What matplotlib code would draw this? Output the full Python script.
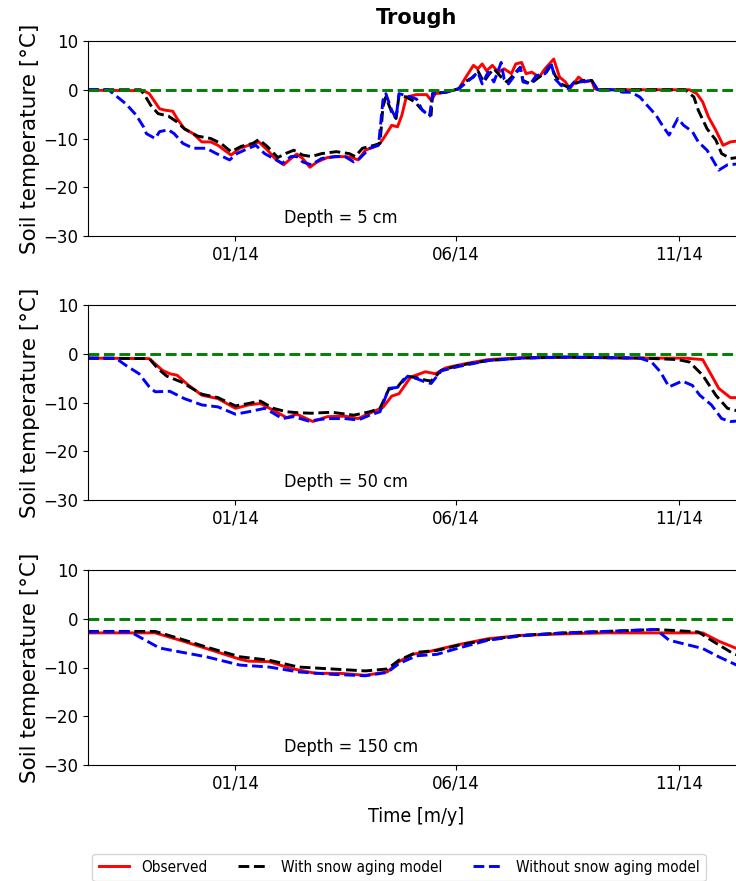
import datetime as dt
import numpy as np
import matplotlib
matplotlib.use("Agg")
import matplotlib.pyplot as plt
import matplotlib.dates as mdates

# ---- data: days since 2014-01-01, soil temperature [°C] ----
obs5_d = [-101, -63, -59, -52, -48, -43, -40, -35, -29, -23, -17, -12, -3, 3, 9, 16, 22, 27, 33, 38, 42, 46, 51, 56, 63, 72, 79, 84, 89, 95, 99, 102, 107, 111, 114, 117, 124, 131, 134, 137, 144, 153, 157, 160, 163, 166, 169, 172, 176, 180, 184, 189, 192, 196, 199, 203, 208, 212, 215, 218, 222, 226, 229, 235, 239, 244, 246, 249, 311, 316, 320, 324, 329, 334, 339, 349]
obs5_v = [-0.1, -0.2, -0.8, -3.9, -4.2, -4.4, -5.9, -8.0, -9.0, -10.7, -10.7, -11.4, -13.4, -12.0, -11.4, -10.7, -12.4, -14.1, -15.4, -14.1, -13.2, -14.1, -15.9, -14.8, -13.9, -13.7, -13.8, -14.4, -12.4, -11.7, -11.0, -9.7, -7.3, -7.6, -5.2, -1.5, -1.0, -1.0, -2.2, -0.8, -0.5, 0.2, 2.2, 3.6, 5.0, 4.3, 5.3, 3.9, 5.0, 3.6, 4.3, 3.3, 5.3, 5.6, 3.3, 3.6, 2.6, 4.3, 5.3, 6.3, 2.6, 1.6, 0.2, 2.6, 1.6, 1.9, 0.2, 0.0, 0.0, -0.8, -2.5, -5.6, -8.3, -11.4, -10.7, -10.3]

age5_d = [-101, -65, -62, -58, -53, -46, -40, -35, -26, -17, -10, -3, 4, 12, 16, 22, 29, 35, 40, 46, 52, 59, 69, 78, 82, 87, 95, 99, 101, 103, 107, 110, 112, 117, 123, 127, 131, 134, 135, 144, 153, 157, 163, 166, 170, 174, 177, 182, 186, 190, 195, 197, 202, 208, 213, 216, 219, 223, 228, 232, 238, 244, 248, 308, 314, 317, 323, 329, 333, 339, 349]
age5_v = [0.0, 0.0, -1.2, -3.2, -4.9, -5.4, -6.6, -8.0, -9.5, -10.0, -11.0, -12.7, -11.6, -11.0, -10.2, -11.7, -13.9, -13.0, -12.4, -13.4, -13.7, -13.1, -12.7, -13.1, -13.7, -12.0, -11.4, -11.0, -3.5, -1.5, -4.6, -5.9, -1.2, -1.5, -2.5, -3.9, -4.9, -5.2, -0.8, -0.5, 0.2, 1.6, 2.6, 3.9, 1.6, 3.3, 4.3, 2.6, 1.6, 2.9, 4.6, 1.9, 1.2, 2.6, 3.6, 5.0, 2.9, 1.2, 0.5, 1.2, 1.9, 1.9, 0.0, 0.0, -1.5, -4.2, -8.0, -10.3, -13.1, -14.1, -13.7]

noage5_d = [-101, -87, -82, -75, -68, -63, -61, -55, -52, -46, -42, -36, -29, -20, -13, -4, 1, 9, 14, 20, 26, 32, 38, 42, 46, 52, 59, 68, 75, 81, 85, 92, 98, 101, 103, 107, 110, 112, 117, 124, 128, 133, 135, 144, 153, 157, 161, 166, 169, 173, 177, 182, 184, 187, 192, 195, 197, 202, 206, 212, 216, 219, 223, 228, 232, 236, 244, 248, 259, 265, 271, 277, 282, 288, 293, 297, 303, 307, 313, 317, 323, 327, 331, 337, 349]
noage5_v = [0.0, 0.0, -1.2, -2.9, -5.2, -7.6, -9.0, -10.0, -8.6, -8.2, -9.0, -11.0, -12.0, -12.0, -13.1, -14.4, -13.1, -12.0, -11.4, -13.1, -14.1, -15.1, -13.7, -13.7, -14.8, -15.4, -14.1, -13.7, -13.7, -14.8, -14.1, -12.0, -11.4, -2.2, -0.8, -4.2, -5.9, -0.8, -1.2, -1.9, -4.2, -5.4, -0.8, -0.5, 0.2, 1.2, 2.2, 3.6, 1.2, 3.6, 1.6, 5.6, 2.2, 1.2, 3.3, 4.6, 1.6, 1.2, 2.9, 3.3, 5.6, 2.2, 0.9, 0.2, 1.6, 1.6, 1.9, 0.0, 0.0, -0.5, -0.5, -1.5, -3.2, -5.2, -7.6, -9.3, -5.9, -7.3, -8.6, -10.7, -12.4, -14.4, -16.5, -15.4, -15.1]

obs50_d = [-101, -59, -50, -45, -40, -32, -23, -12, 0, 9, 17, 26, 35, 42, 53, 63, 75, 84, 92, 101, 107, 112, 120, 130, 137, 144, 158, 173, 196, 225, 280, 308, 320, 326, 331, 339, 349]
obs50_v = [-0.9, -1.0, -3.4, -4.1, -4.4, -6.5, -8.5, -9.2, -11.2, -10.5, -10.2, -11.6, -13.1, -12.4, -13.9, -12.9, -12.8, -13.3, -12.2, -11.0, -8.7, -8.2, -4.8, -3.7, -4.1, -2.9, -2.0, -1.2, -0.8, -0.7, -0.9, -0.9, -1.2, -4.4, -7.1, -9.0, -9.0]

age50_d = [-101, -59, -53, -47, -37, -23, -12, 0, 9, 17, 26, 35, 43, 52, 66, 81, 92, 99, 105, 111, 117, 124, 130, 134, 141, 153, 173, 196, 225, 280, 303, 311, 320, 329, 337, 349]
age50_v = [-0.9, -1.0, -3.1, -4.6, -5.8, -8.3, -9.0, -10.7, -10.2, -9.7, -11.2, -11.9, -12.1, -12.2, -12.0, -12.6, -11.9, -11.2, -7.3, -6.8, -4.6, -4.9, -5.4, -5.6, -3.4, -2.4, -1.4, -0.9, -0.7, -0.9, -1.2, -1.7, -4.4, -8.5, -11.2, -12.1]

noage50_d = [-101, -82, -75, -66, -59, -55, -45, -35, -23, -12, 0, 9, 20, 26, 32, 40, 50, 63, 75, 84, 92, 99, 105, 111, 118, 124, 130, 134, 141, 153, 173, 196, 225, 277, 285, 291, 297, 306, 313, 318, 326, 333, 339, 349]
noage50_v = [-0.9, -0.9, -2.4, -4.1, -6.8, -7.8, -7.7, -9.2, -10.5, -10.9, -12.4, -11.9, -11.2, -12.2, -13.3, -12.9, -13.8, -13.3, -13.3, -13.6, -12.6, -11.9, -7.1, -6.9, -4.6, -5.1, -5.8, -6.1, -3.5, -2.6, -1.4, -0.9, -0.7, -0.9, -1.7, -3.7, -6.8, -5.6, -6.5, -8.5, -10.5, -13.3, -13.9, -13.7]

obs150_d = [-101, -75, -55, -38, -20, 3, 9, 23, 38, 55, 72, 89, 104, 112, 121, 133, 153, 173, 196, 225, 254, 291, 320, 331, 349]
obs150_v = [-2.9, -2.9, -2.9, -4.4, -6.1, -8.3, -8.7, -8.8, -10.2, -11.2, -11.2, -11.6, -10.9, -8.8, -7.3, -6.7, -5.3, -4.1, -3.4, -3.1, -2.9, -2.9, -2.9, -4.6, -6.8]

age150_d = [-101, -55, -38, -20, 3, 23, 43, 66, 89, 104, 112, 124, 138, 153, 173, 196, 225, 254, 288, 317, 328, 339, 349]
age150_v = [-2.6, -2.6, -4.1, -5.8, -7.8, -8.5, -9.9, -10.3, -10.7, -10.3, -8.5, -6.9, -6.5, -5.4, -4.3, -3.4, -2.9, -2.6, -2.2, -2.7, -4.8, -6.8, -8.2]

noage150_d = [-101, -72, -52, -38, -20, 3, 23, 43, 66, 89, 104, 112, 124, 138, 153, 173, 196, 225, 254, 288, 297, 320, 331, 349]
noage150_v = [-2.7, -2.7, -6.0, -6.8, -7.8, -9.5, -9.9, -10.9, -11.4, -11.7, -11.0, -9.2, -7.6, -7.3, -6.0, -4.4, -3.5, -2.9, -2.6, -2.2, -4.4, -6.1, -7.8, -10.3]

depth_labels = ["Depth = 5 cm", "Depth = 50 cm", "Depth = 150 cm"]
series_names = ["Observed", "With snow aging model", "Without snow aging model"]
tick_dates = ["2014-01-01", "2014-06-01", "2014-11-01"]
yticks = [-30, -20, -10, 0, 10]

panels = [
    [(obs5_d, obs5_v), (age5_d, age5_v), (noage5_d, noage5_v)],
    [(obs50_d, obs50_v), (age50_d, age50_v), (noage50_d, noage50_v)],
    [(obs150_d, obs150_v), (age150_d, age150_v), (noage150_d, noage150_v)],
]

base = mdates.date2num(dt.datetime(2014, 1, 1))
xmin = mdates.date2num(dt.datetime(2013, 9, 22))
xmax = mdates.date2num(dt.datetime(2014, 12, 16))

W, H = 736, 881
fig = plt.figure(figsize=(W / 100, H / 100), dpi=100)

ax_left = 88 / W
ax_w = (745 - 88) / W
ax_h = 195 / H
bottoms = [236, 500, 765]

styles = [dict(color="red", ls="-", lw=2.1),
          dict(color="black", ls="--", lw=2.1),
          dict(color="blue", ls="--", lw=2.1)]

cond = dict(family="DejaVu Sans", stretch="condensed")

axes = []
for i, b in enumerate(bottoms):
    ax = fig.add_axes([ax_left, 1 - b / H, ax_w, ax_h])
    axes.append(ax)
    handles = []
    for (d, v), st, name in zip(panels[i], styles, series_names):
        h, = ax.plot(base + np.array(d, dtype=float), v, label=name, **st)
        handles.append(h)
    ax.axhline(0, color="green", ls="--", lw=2.1)
    ax.set_xlim(xmin, xmax)
    ax.set_ylim(-30, 10)
    ax.set_yticks(yticks)
    ax.set_xticks([mdates.date2num(dt.datetime.strptime(t, "%Y-%m-%d")) for t in tick_dates])
    ax.xaxis.set_major_formatter(mdates.DateFormatter("%m/%y"))
    ax.tick_params(labelsize=12)
    ax.set_ylabel("Soil temperature [°C]", fontsize=15.5, labelpad=2)
    ax.spines["right"].set_visible(False)
    ax.text(0.298, 0.045, depth_labels[i], transform=ax.transAxes,
            fontsize=13, ha="left", va="bottom", **cond)

axes[0].set_title("Trough", fontsize=15, fontweight="bold", pad=12)
axes[2].set_xlabel("Time [m/y]", fontsize=14, labelpad=10, **cond)

fig.legend(handles, series_names, loc="upper center", ncol=3,
           bbox_to_anchor=(399 / W, 1 - 846 / H), frameon=True,
           prop=dict(size=11, **cond), handlelength=2.0, columnspacing=2.0)

fig.savefig("out.png", dpi=100)
